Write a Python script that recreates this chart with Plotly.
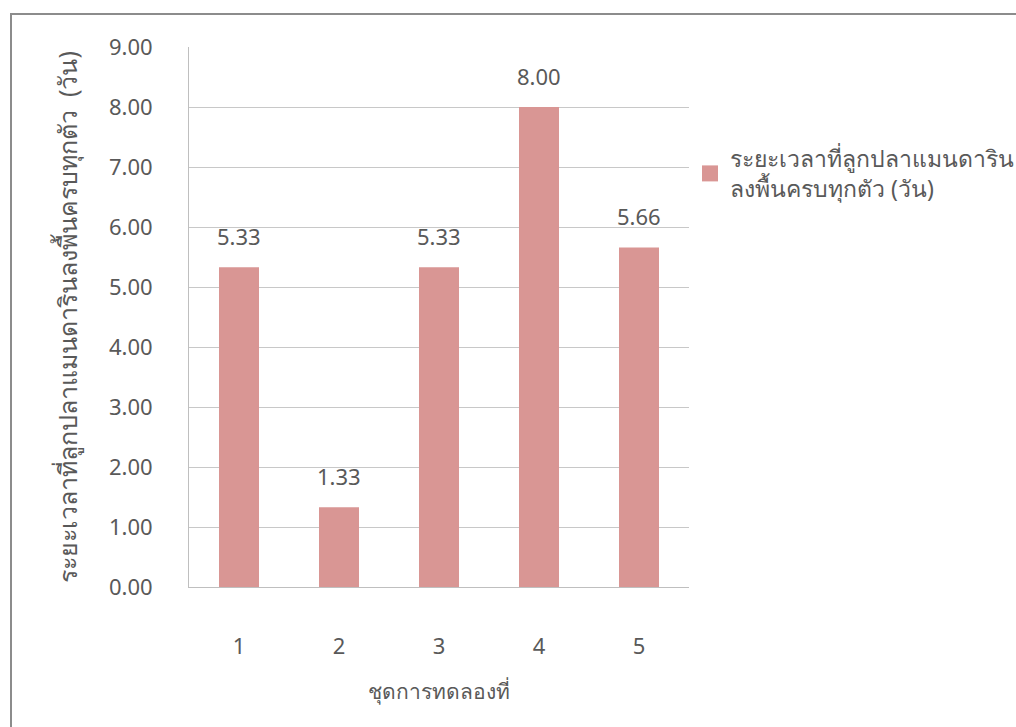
import plotly.graph_objects as go

# Experiment sets and days until all mandarin fish larvae settled
categories = ["1", "2", "3", "4", "5"]
days = [5.33, 1.33, 5.33, 8.00, 5.66]
y_ticks = [0, 1, 2, 3, 4, 5, 6, 7, 8, 9]

series_name = "ระยะเวลาที่ลูกปลาแมนดาริน<br>ลงพื้นครบทุกตัว (วัน)"
y_title = "ระยะเวลาที่ลูกปลาแมนดารินลงพื้นครบทุกตัว  (วัน)"
x_title = "ชุดการทดลองที่"

bar_color = "#d99694"
text_color = "#595959"
font_family = "Noto Sans, DejaVu Sans, sans-serif"

W, H = 1016, 727
L, R, T, B = 189, 327, 47, 140
pw, ph = W - L - R, H - T - B


def px_x(p):
    return (p - L) / pw


def px_y(p):
    return (H - B - p) / ph


fig = go.Figure()
fig.add_trace(go.Bar(
    x=categories, y=days, name=series_name,
    marker=dict(color=bar_color, line=dict(width=0)),
    showlegend=False,
))
# legend entry with a larger square swatch
fig.add_trace(go.Scatter(
    x=[None], y=[None], mode="markers", name=series_name,
    marker=dict(symbol="square", size=16, color=bar_color),
    showlegend=True, hoverinfo="skip",
))

# value labels above the bars (x given as category index)
for i, v in enumerate(days):
    fig.add_annotation(x=i, y=v, text=f"{v:.2f}", showarrow=False,
                       yanchor="bottom", yshift=14,
                       font=dict(size=22, color=text_color, family=font_family))

# outer chart border
fig.add_shape(type="rect", xref="paper", yref="paper",
              x0=px_x(11), x1=px_x(W + 10), y0=px_y(H + 10), y1=px_y(14),
              line=dict(color="#8c8c8c", width=2), fillcolor="rgba(0,0,0,0)")

fig.update_layout(
    width=W, height=H,
    margin=dict(l=L, r=R, t=T, b=B, autoexpand=False),
    paper_bgcolor="white", plot_bgcolor="white",
    bargap=0.6,
    font=dict(family=font_family, color=text_color, size=16),
    xaxis=dict(
        title=dict(text=x_title, standoff=24, font=dict(size=21, color=text_color)),
        range=[-0.5, 4.5],
        showgrid=False, showline=True, linecolor="#bfbfbf", linewidth=1,
        ticks="", ticklabelstandoff=40,
        tickfont=dict(size=22, color=text_color),
    ),
    yaxis=dict(
        title=dict(text=y_title, standoff=24, font=dict(size=25, color=text_color)),
        range=[0, 9], tickvals=y_ticks,
        ticktext=[f"{t:.2f}" for t in y_ticks],
        showgrid=True, gridcolor="#c8c8c8", gridwidth=1,
        showline=True, linecolor="#bfbfbf", linewidth=1,
        zeroline=False, ticks="", ticklabelstandoff=31,
        tickfont=dict(size=22, color=text_color),
    ),
    legend=dict(x=px_x(690), y=px_y(137), xanchor="left", yanchor="top",
                font=dict(size=23, color=text_color), bgcolor="rgba(0,0,0,0)",
                itemwidth=30, tracegroupgap=0),
)

fig.write_html("out.html")
